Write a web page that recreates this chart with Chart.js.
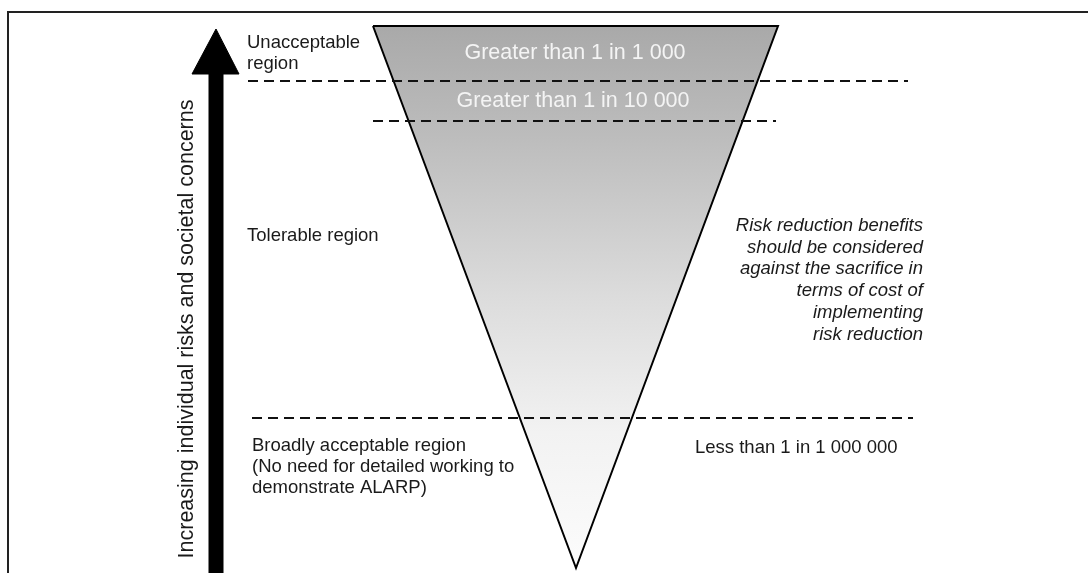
<!DOCTYPE html>
<html>
<head>
<meta charset="utf-8">
<script src="https://cdn.jsdelivr.net/npm/chart.js@4"></script>
<style>
  html, body { margin: 0; padding: 0; background: #fff; }
  canvas { display: block; }
</style>
</head>
<body>
<canvas id="grafico" width="1088" height="573"></canvas>
<script>
// diagram units = one unit per pixel of the 1088 x 573 picture, y counted downwards
const trianguloX = [373, 778, 576, 373];
const trianguloY = [26, 26, 568, 26];

const limitesY = [81, 121, 418];
const limitesInicio = [248, 373, 252];
const limitesFim = [908, 776, 913];

const setaX = [216, 216];
const setaY = [573, 72];
const pontaX = [192, 239, 216, 192];
const pontaY = [74, 74, 29, 74];

const molduraX = [8, 8, 1088];
const molduraY = [573, 12, 12];

const regioes = [
  ["Unacceptable", "region"],
  ["Tolerable region"],
  ["Broadly acceptable region", "(No need for detailed working to", "demonstrate ALARP)"],
];
const faixasRisco = ["Greater than 1 in 1 000", "Greater than 1 in 10 000", "Less than 1 in 1 000 000"];
const notaToleravel = [
  "Risk reduction benefits",
  "should be considered",
  "against the sacrifice in",
  "terms of cost of",
  "implementing",
  "risk reduction",
];
const tituloEixo = "Increasing individual risks and societal concerns";

const fonte = '"Liberation Sans", Arial, sans-serif';

function pontos(xs, ys) {
  return xs.map((x, i) => ({ x: x, y: ys[i] }));
}

function gradienteTriangulo(context) {
  const chart = context.chart;
  if (!chart.chartArea) return "#cccccc";
  const y = chart.scales.y;
  const g = chart.ctx.createLinearGradient(0, y.getPixelForValue(trianguloY[0]), 0, y.getPixelForValue(trianguloY[2]));
  g.addColorStop(0, "#a9a9a9");
  g.addColorStop(0.2, "#bcbcbc");
  g.addColorStop(0.5, "#dcdcdc");
  g.addColorStop(0.75, "#f2f2f2");
  g.addColorStop(1, "#fcfcfc");
  return g;
}

// textos posicionados pelas escalas
const rotulos = {
  id: "rotulos",
  afterDatasetsDraw(chart) {
    const { ctx, scales } = chart;
    const px = (v) => scales.x.getPixelForValue(v);
    const py = (v) => scales.y.getPixelForValue(v);
    ctx.save();
    ctx.textBaseline = "alphabetic";

    // regiões à esquerda
    ctx.fillStyle = "#1a1a1a";
    ctx.font = "18.5px " + fonte;
    ctx.textAlign = "left";
    const regiaoX = [247, 247, 252];
    const regiaoY = [48, 241, 451];
    const passoRegiao = [20.5, 21, 21];
    regioes.forEach((linhas, i) => {
      linhas.forEach((t, j) => ctx.fillText(t, px(regiaoX[i]), py(regiaoY[i] + j * passoRegiao[i])));
    });

    // faixas dentro do triângulo
    ctx.fillStyle = "#f4f4f4";
    ctx.font = "21.5px " + fonte;
    ctx.textAlign = "center";
    ctx.fillText(faixasRisco[0], px(575), py(59));
    ctx.fillText(faixasRisco[1], px(573), py(107));

    ctx.fillStyle = "#1a1a1a";
    ctx.font = "18.5px " + fonte;
    ctx.textAlign = "left";
    ctx.fillText(faixasRisco[2], px(695), py(453));

    // nota em itálico
    ctx.font = "italic 18.5px " + fonte;
    ctx.textAlign = "right";
    notaToleravel.forEach((t, j) => ctx.fillText(t, px(923), py(231 + j * 21.7)));

    // título vertical
    ctx.font = "21.5px " + fonte;
    ctx.textAlign = "center";
    ctx.translate(px(193), py(329));
    ctx.rotate(-Math.PI / 2);
    ctx.fillText(tituloEixo, 0, 0);
    ctx.restore();
  },
};

const linhasLimite = limitesY.map((y, i) => ({
  data: pontos([limitesInicio[i], limitesFim[i]], [y, y]),
  showLine: true,
  borderColor: "#111111",
  borderWidth: 2,
  borderDash: [10, 6],
  pointRadius: 0,
  fill: false,
}));

new Chart(document.getElementById("grafico"), {
  type: "scatter",
  data: {
    datasets: [
      {
        data: pontos(trianguloX, trianguloY),
        showLine: true,
        borderColor: "#000000",
        borderWidth: 2,
        backgroundColor: gradienteTriangulo,
        fill: "shape",
        pointRadius: 0,
        order: 3,
      },
      ...linhasLimite,
      {
        data: pontos(setaX, setaY),
        showLine: true,
        borderColor: "#000000",
        borderWidth: 15,
        borderCapStyle: "butt",
        pointRadius: 0,
        fill: false,
      },
      {
        data: pontos(pontaX, pontaY),
        showLine: true,
        borderColor: "#000000",
        borderWidth: 1,
        backgroundColor: "#000000",
        fill: "shape",
        pointRadius: 0,
      },
      {
        data: pontos(molduraX, molduraY),
        showLine: true,
        borderColor: "#222222",
        borderWidth: 2,
        pointRadius: 0,
        fill: false,
      },
    ],
  },
  options: {
    responsive: false,
    animation: false,
    layout: { padding: 0 },
    plugins: { legend: { display: false }, tooltip: { enabled: false } },
    scales: {
      x: { type: "linear", min: 0, max: 1088, display: false },
      y: { type: "linear", min: 0, max: 573, reverse: true, display: false },
    },
  },
  plugins: [rotulos],
});
</script>
</body>
</html>
